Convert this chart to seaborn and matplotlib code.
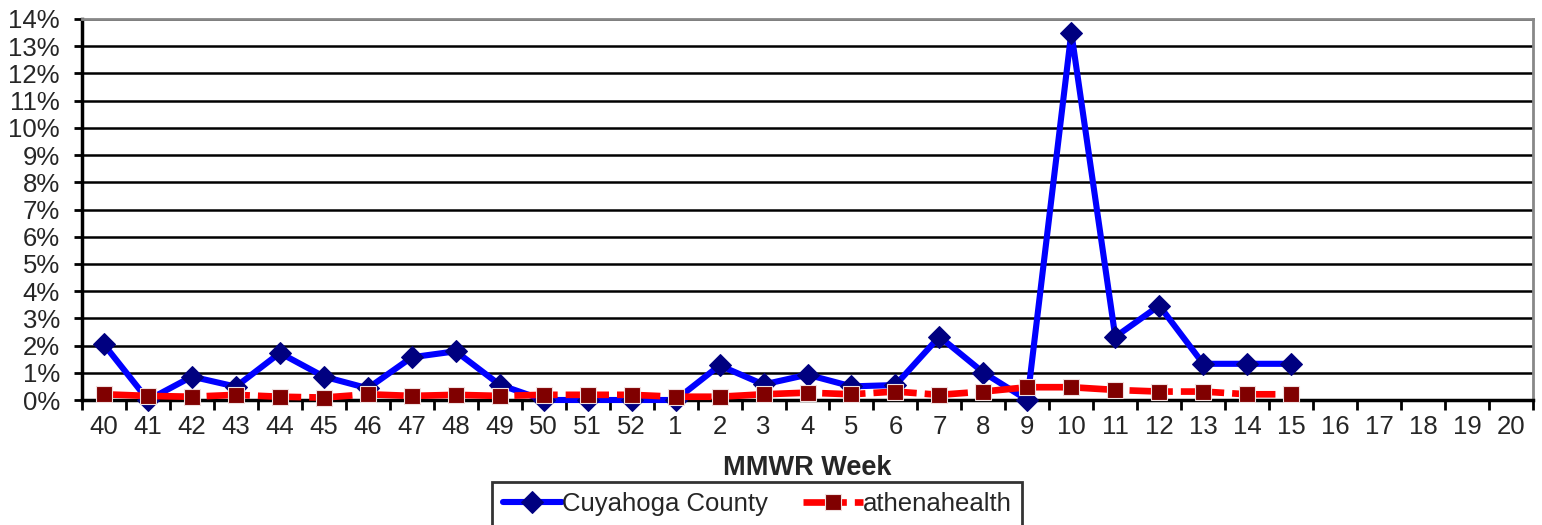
import matplotlib
matplotlib.use("Agg")
import matplotlib.pyplot as plt
import seaborn as sns
import pandas as pd
import numpy as np

weeks = ["40", "41", "42", "43", "44", "45", "46", "47", "48", "49", "50", "51", "52",
         "1", "2", "3", "4", "5", "6", "7", "8", "9", "10", "11", "12", "13", "14", "15",
         "16", "17", "18", "19", "20"]
cuyahoga = [2.04, 0.0, 0.86, 0.49, 1.73, 0.86, 0.43, 1.57, 1.79, 0.56, 0.0, 0.0, 0.0,
            0.0, 1.27, 0.57, 0.93, 0.5, 0.55, 2.33, 1.01, 0.0, 13.5, 2.32, 3.47, 1.33, 1.33, 1.33]
athena = [0.21, 0.15, 0.12, 0.19, 0.12, 0.09, 0.21, 0.15, 0.19, 0.15, 0.19, 0.19, 0.19,
          0.12, 0.12, 0.21, 0.27, 0.21, 0.31, 0.19, 0.31, 0.47, 0.47, 0.37, 0.31, 0.31, 0.21, 0.21]
yticks = list(range(0, 15))

sns.set_theme(style="white")
plt.rcParams['font.family'] = ['Liberation Sans', 'DejaVu Sans']

fig = plt.figure(figsize=(15.42, 5.25), dpi=100)
ax = fig.add_axes([82/1542, 1-400/525, (1533-82)/1542, (400-19)/525])

df_c = pd.DataFrame({"pos": np.arange(len(cuyahoga)), "val": cuyahoga})
df_a = pd.DataFrame({"pos": np.arange(len(athena)), "val": athena})

for y in yticks[1:]:
    ax.axhline(y, color="black", lw=1.8, zorder=1.1)

sns.lineplot(data=df_c, x="pos", y="val", ax=ax, color="#0000FF", lw=4.4,
             marker="D", markersize=11, markerfacecolor="#000080",
             markeredgecolor="#000080", label="Cuyahoga County", zorder=3, sort=False,
             clip_on=False)
sns.lineplot(data=df_a, x="pos", y="val", ax=ax, color="#FF0000", lw=4.8,
             marker="s", markersize=12, markerfacecolor="#800000",
             markeredgecolor="#F0E0E0", markeredgewidth=0.8, label="athenahealth",
             zorder=4, sort=False, clip_on=False)
for ln in ax.lines:
    if ln.get_label() == "athenahealth":
        ln.set_dashes([6.5, 1.2])

ax.set_xlim(-0.5, len(weeks) - 0.5)
ax.set_ylim(0, 14)
ax.set_yticks(yticks)
ax.set_yticklabels([f"{v}%" for v in yticks], fontsize=18.5)
ax.set_xticks(np.arange(len(weeks)))
ax.set_xticklabels(weeks, fontsize=18.5)
ax.set_xticks(np.arange(len(weeks) + 1) - 0.5, minor=True)
ax.tick_params(axis="x", which="major", length=0, pad=11)
ax.tick_params(axis="x", which="minor", length=7, width=2, color="black", direction="out")
ax.tick_params(axis="y", which="major", length=6, width=2, color="black", direction="out", pad=10)
ax.tick_params(left=True, bottom=True, which="both")
ax.set_xlabel("MMWR Week", fontsize=19.5, fontweight="bold", labelpad=11)
ax.set_ylabel("")
for s in ["left", "bottom"]:
    ax.spines[s].set_color("black")
    ax.spines[s].set_linewidth(2.5)
for s in ["top", "right"]:
    ax.spines[s].set_color("#888888")
    ax.spines[s].set_linewidth(2)
ax.grid(False)

ax.get_legend().remove()
h, l = ax.get_legend_handles_labels()
leg = fig.legend(h, l, loc="upper center", bbox_to_anchor=(757/1542, 1-482/525), ncol=2,
                 fontsize=18.5, frameon=True, fancybox=False, edgecolor="black",
                 handlelength=2.3, handletextpad=0.0, columnspacing=1.4,
                 borderpad=0.4, borderaxespad=0)
leg.get_frame().set_linewidth(2)

fig.savefig("out.png", dpi=100, facecolor="white")
